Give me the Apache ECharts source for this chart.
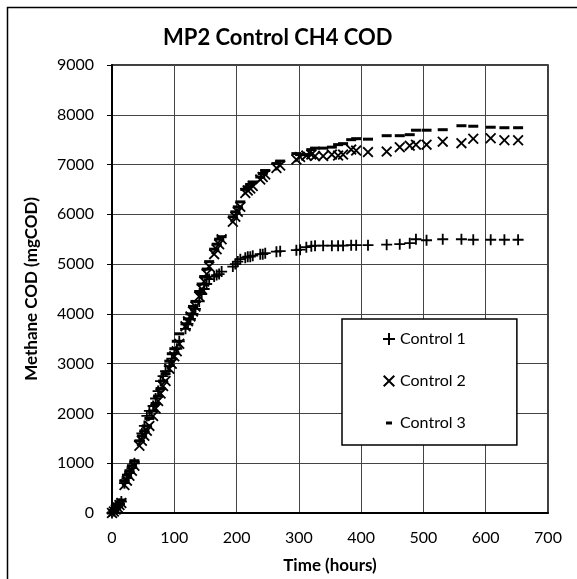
<!DOCTYPE html>
<html>
<head>
<meta charset="utf-8">
<script src="https://cdn.jsdelivr.net/npm/echarts@6/dist/echarts.min.js"></script>
<style>html,body{margin:0;padding:0;background:#fff;}#chart{width:577px;height:579px;}</style>
</head>
<body>
<div id="chart"></div>
<script>
const titleText = 'MP2 Control CH4 COD';
const xAxisName = 'Time (hours)';
const yAxisName = 'Methane COD (mgCOD)';
const seriesNames = ['Control 1', 'Control 2', 'Control 3'];

const times = [0,3,6,9,12,15, 20,24,28,32,36, 44,48,52,56,60, 66,70,74,78,82,86, 92,96,100,104,108, 118,122,126,130,134, 140,144,148,152,156, 164,168,172,176, 194,198,202,206, 214,218,222,226, 238,242,246, 264,270, 296,302, 312,320,326,339,353,363,371, 384,392,411,441,462,478,488,505,531,561,580,608,630,652];

const control1 = [0,40,90,130,180,230, 600,700,800,900,1000, 1450,1600,1750,1950,2050, 2150,2300,2450,2650,2750,2850, 2950,3100,3200,3300,3450, 3700,3800,3900,4000,4100, 4250,4400,4500,4600,4700, 4750,4780,4800,4850, 4950,5000,5050,5100, 5130,5150,5150,5170, 5200,5200,5220, 5250,5260, 5280,5290, 5340,5360,5370,5370,5370,5370,5370, 5380,5380,5380,5390,5400,5420,5500,5480,5500,5500,5490,5490,5490,5490];

const control2 = [0,30,70,110,160,200, 560,650,750,850,950, 1350,1450,1550,1650,1750, 1950,2100,2250,2400,2550,2650, 2900,3000,3150,3250,3400, 3750,3850,3950,4050,4150, 4350,4500,4650,4800,4950, 5200,5300,5400,5500, 5850,5950,6050,6150, 6430,6480,6520,6570, 6700,6750,6800, 6930,6980, 7100,7150, 7180,7200,7170,7170,7200,7180,7200, 7300,7280,7250,7260,7350,7380,7400,7400,7460,7430,7520,7530,7490,7490];

const control3 = [0,50,100,150,200,260, 650,760,850,950,1050, 1450,1550,1650,1750,1900, 2050,2200,2350,2500,2650,2800, 3050,3200,3300,3450,3600, 3800,3900,4000,4150,4250, 4450,4600,4750,4900,5050, 5300,5400,5500,5550, 5950,6050,6150,6250, 6500,6550,6600,6650, 6750,6820,6880, 7020,7070, 7220,7200, 7200,7300,7330,7330,7350,7400,7420, 7500,7520,7510,7580,7580,7600,7690,7690,7700,7780,7770,7750,7740,7740];

const FONT = 'Lato';
const plusPath = 'path://M5,0h2v5h5v2h-5v5h-2v-5h-5v-2h5z';
const crossPath = 'path://M0,1.4L1.4,0L6,4.6L10.6,0L12,1.4L7.4,6L12,10.6L10.6,12L6,7.4L1.4,12L0,10.6L4.6,6Z';
const dashLegendPath = 'path://M0,0L12,0L12,0.001Z M3,6.5h6v3h-6z M0,16L12,16L12,15.999Z';

function pairs(xs, ys) { return xs.map((x, i) => [x, ys[i]]); }

const chart = echarts.init(document.getElementById('chart'), null, {renderer: 'canvas'});
chart.setOption({
  backgroundColor: '#fff',
  animation: false,
  title: {
    text: titleText,
    left: 163, top: 27, padding: 0,
    textStyle: {fontFamily: FONT, fontSize: 22, fontWeight: 'bold', color: '#000'}
  },
  graphic: [{
    type: 'rect', silent: true, z: 0,
    shape: {x: 7.5, y: 7.5, width: 800, height: 800},
    style: {fill: 'none', stroke: '#000', lineWidth: 1.5}
  }],
  grid: {
    left: 112, top: 65, right: 29, bottom: 64,
    show: true, borderColor: '#000', borderWidth: 1.5, backgroundColor: 'transparent'
  },
  legend: {
    orient: 'vertical',
    left: 342, top: 319,
    padding: [12, 51, 14, 41],
    itemWidth: 12, itemHeight: 16, itemGap: 26,
    backgroundColor: '#fff',
    borderColor: '#000', borderWidth: 1.5, borderRadius: 0,
    textStyle: {fontFamily: FONT, fontSize: 16, color: '#000', lineHeight: 16},
    data: [
      {name: seriesNames[0], icon: plusPath},
      {name: seriesNames[1], icon: crossPath},
      {name: seriesNames[2], icon: dashLegendPath}
    ]
  },
  xAxis: {
    type: 'value', min: 0, max: 700, interval: 100,
    name: xAxisName, nameLocation: 'middle', nameGap: 44,
    nameTextStyle: {fontFamily: FONT, fontSize: 17, fontWeight: 'bold', color: '#000'},
    axisLine: {show: true, lineStyle: {color: '#000', width: 2}},
    axisTick: {show: false},
    axisLabel: {fontFamily: FONT, fontSize: 16, color: '#000', margin: 17},
    splitLine: {show: true, lineStyle: {color: '#444', width: 1}}
  },
  yAxis: {
    type: 'value', min: 0, max: 9000, interval: 1000,
    name: yAxisName, nameLocation: 'middle', nameGap: 72,
    nameTextStyle: {fontFamily: FONT, fontSize: 17, fontWeight: 'bold', color: '#000'},
    axisLine: {show: true, lineStyle: {color: '#000', width: 2}},
    axisTick: {show: true, inside: false, length: 5, lineStyle: {color: '#000', width: 1}},
    axisLabel: {fontFamily: FONT, fontSize: 16, color: '#000', margin: 18, formatter: function (v) { return String(v); }},
    splitLine: {show: true, lineStyle: {color: '#444', width: 1}}
  },
  series: [
    {
      name: seriesNames[0], type: 'scatter', data: pairs(times, control1),
      symbol: plusPath, symbolSize: 11,
      itemStyle: {color: '#000', opacity: 1}
    },
    {
      name: seriesNames[1], type: 'scatter', data: pairs(times, control2),
      symbol: crossPath, symbolSize: 11,
      itemStyle: {color: '#000', opacity: 1}
    },
    {
      name: seriesNames[2], type: 'scatter', data: pairs(times, control3),
      symbol: 'rect', symbolSize: [10, 3],
      itemStyle: {color: '#000', opacity: 1}
    }
  ]
});
</script>
</body>
</html>
